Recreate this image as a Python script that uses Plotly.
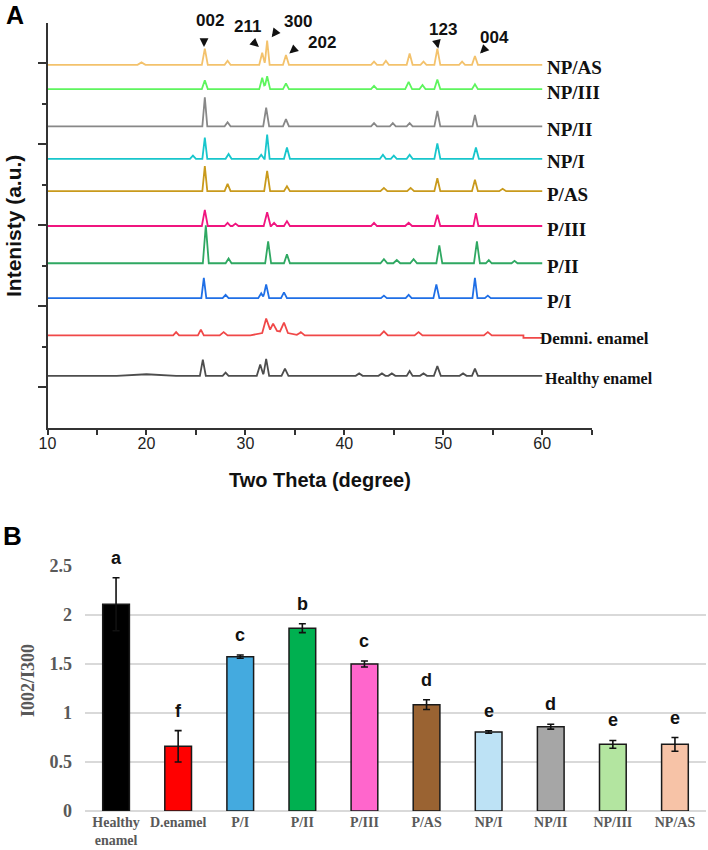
import plotly.graph_objects as go

# ---------------- Panel A: XRD patterns ----------------
# peaks: (2theta, height in a.u., half-width of peak base)
healthy_peaks = [(20.0, 2, 3.0), (25.7, 20, 0.3), (28.0, 4, 0.3), (31.5, 14, 0.35), (32.1, 21, 0.3),
                 (34.0, 9, 0.35), (41.5, 3, 0.35), (43.8, 3, 0.35), (44.8, 3, 0.35), (46.6, 6, 0.3),
                 (48.0, 3, 0.35), (49.4, 12, 0.35), (52.0, 3, 0.35), (53.2, 9, 0.3)]
demni_peaks = [(23.0, 4, 0.3), (25.5, 7, 0.3), (27.8, 4, 0.4), (33.0, 6, 2.5), (32.1, 17, 0.4),
               (32.8, 9, 0.4), (33.9, 12, 0.4), (35.6, 4, 0.4), (44.0, 5, 0.4), (47.5, 4, 0.4),
               (54.5, 4, 0.4)]
demni_tail = [(58.1, -3), (60.0, -3)]
p1_peaks = [(25.8, 25, 0.25), (28.0, 4, 0.3), (31.6, 6, 0.3), (32.1, 17, 0.3), (33.9, 7, 0.3),
            (44.0, 3, 0.3), (46.5, 4, 0.3), (49.3, 17, 0.3), (53.2, 25, 0.25), (54.5, 3, 0.3)]
p2_peaks = [(26.0, 47, 0.3), (28.3, 6, 0.3), (32.3, 27, 0.3), (34.2, 11, 0.3), (44.0, 5, 0.35),
            (45.3, 4, 0.35), (47.0, 5, 0.35), (49.6, 22, 0.3), (53.4, 27, 0.3), (54.6, 4, 0.3),
            (57.2, 3, 0.3)]
p3_peaks = [(25.9, 20, 0.3), (28.2, 4, 0.3), (29.0, 3, 0.3), (32.2, 17, 0.35), (32.9, 4, 0.3),
            (34.2, 6, 0.3), (43.0, 4, 0.3), (46.5, 4, 0.35), (49.4, 14, 0.3), (53.3, 16, 0.25)]
pas_peaks = [(25.9, 31, 0.25), (28.2, 9, 0.3), (32.2, 25, 0.3), (34.2, 6, 0.3), (44.0, 4, 0.35),
             (46.7, 4, 0.35), (49.4, 16, 0.3), (53.2, 14, 0.3), (56.0, 3, 0.35)]
np1_peaks = [(24.7, 4, 0.3), (25.9, 26, 0.25), (28.3, 6, 0.3), (31.6, 5, 0.3), (32.2, 30, 0.25),
             (34.2, 14, 0.3), (43.9, 5, 0.3), (45.0, 4, 0.3), (46.6, 5, 0.3), (49.4, 19, 0.3),
             (53.3, 14, 0.3)]
np2_peaks = [(25.9, 36, 0.25), (28.2, 5, 0.3), (32.1, 23, 0.3), (34.1, 9, 0.3), (43.0, 4, 0.3),
             (44.9, 4, 0.3), (46.6, 4, 0.3), (49.4, 19, 0.3), (53.2, 14, 0.25)]
np3_peaks = [(25.9, 11, 0.3), (31.7, 14, 0.3), (32.2, 16, 0.3), (34.1, 7, 0.3), (43.0, 4, 0.3),
             (46.5, 9, 0.35), (47.9, 5, 0.3), (49.4, 12, 0.3), (53.2, 6, 0.3)]
npas_peaks = [(19.5, 3, 0.4), (25.9, 20, 0.3), (28.2, 5, 0.3), (31.7, 15, 0.3), (32.2, 30, 0.25),
              (34.1, 12, 0.3), (43.0, 4, 0.3), (44.2, 5, 0.3), (46.6, 14, 0.3), (48.0, 4, 0.3),
              (49.4, 20, 0.3), (51.9, 4, 0.3), (53.2, 11, 0.3)]

xrd_names = ["Healthy enamel", "Demni. enamel", "P/I", "P/II", "P/III", "P/AS",
             "NP/I", "NP/II", "NP/III", "NP/AS"]
xrd_offsets = [64, 114, 160, 203, 249, 292, 332, 372, 418, 448]
xrd_colors = ["#4d4d4d", "#f04848", "#1f6fe6", "#2fa862", "#f0157f", "#c99a1c",
              "#18c6cc", "#888888", "#5ef55e", "#f3c26c"]
xrd_peaks = [healthy_peaks, demni_peaks, p1_peaks, p2_peaks, p3_peaks, pas_peaks,
             np1_peaks, np2_peaks, np3_peaks, npas_peaks]
xrd_label_fs = [16, 17, 19, 19, 19, 19, 19, 19, 19, 19]

peak_labels = ["002", "211", "300", "202", "123", "004"]
peak_label_x = [26.42, 30.26, 35.32, 37.74, 49.94, 55.13]
peak_label_py = [21, 26, 21.7, 43, 29.3, 37.7]          # pixel rows of label centres
peak_arrow_x = [25.82, 31.37, 32.66, 34.44, 49.50, 53.71]
peak_arrow_y = [470, 470, 482, 462, 468, 462]
peak_arrow_dx = [0, -8, 6, 7, -2, 7]
peak_arrow_dy = [-9, -7, -8, -6, -9, -7]

# ---------------- Panel B: I002/I300 ratio ----------------
groups = ["Healthy<br>enamel", "D.enamel", "P/I", "P/II", "P/III", "P/AS",
          "NP/I", "NP/II", "NP/III", "NP/AS"]
ratio = [2.11, 0.66, 1.575, 1.865, 1.50, 1.085, 0.806, 0.86, 0.68, 0.68]
ratio_err = [0.27, 0.16, 0.017, 0.045, 0.03, 0.05, 0.013, 0.025, 0.04, 0.07]
letters = ["a", "f", "c", "b", "c", "d", "e", "d", "e", "e"]
bar_colors = ["#000000", "#ff0000", "#44aadf", "#00b050", "#ff66cc", "#9a6332",
              "#bde2f5", "#a6a6a6", "#b3e5a0", "#f7c3a7"]


def build_line(offset, peaks, x0=10.0, x1=60.0):
    xs = {x0, x1}
    for p, h, w in peaks:
        for v in (p - w, p, p + w):
            if x0 <= v <= x1:
                xs.add(round(v, 4))
    xs = sorted(xs)
    ys = []
    for x in xs:
        s = 0.0
        for p, h, w in peaks:
            d = abs(x - p)
            if d < w:
                s += h * (1 - d / w)
        ys.append(offset + s)
    return xs, ys


fig = go.Figure()

for name, off, col, pk in zip(xrd_names, xrd_offsets, xrd_colors, xrd_peaks):
    if name.startswith("Demni"):
        xs, ys = build_line(off, pk, 10.0, demni_tail[0][0])
        for tx, ty in demni_tail:
            xs.append(tx)
            ys.append(off + ty)
    else:
        xs, ys = build_line(off, pk)
    fig.add_trace(go.Scatter(x=xs, y=ys, mode="lines", line=dict(color=col, width=1.8),
                             showlegend=False, xaxis="x", yaxis="y", hoverinfo="skip"))

fig.add_trace(go.Bar(x=list(range(len(groups))), y=ratio,
                     marker=dict(color=bar_colors, line=dict(color="#1a1a1a", width=1.5)),
                     error_y=dict(type="data", array=ratio_err, color="#111111",
                                  thickness=1.6, width=3.5),
                     width=0.43, showlegend=False, xaxis="x2", yaxis="y2"))

annotations = []
# trace labels
for name, off, fs in zip(xrd_names, xrd_offsets, xrd_label_fs):
    xpos = 60.25
    if name.startswith("Demni"):
        xpos = 59.55
    elif name.startswith("Healthy"):
        xpos = 60.1
    annotations.append(dict(x=xpos, y=off, xref="x", yref="y", text=name, showarrow=False,
                            xanchor="left", yanchor="middle", yshift=-3,
                            font=dict(family="Liberation Serif", size=fs, color="#111111",
                                      weight="bold")))
# peak labels and arrows
for t, lx, py in zip(peak_labels, peak_label_x, peak_label_py):
    annotations.append(dict(x=lx, y=1 - py / 850, xref="x", yref="paper", text=t,
                            showarrow=False, xanchor="center", yanchor="middle",
                            font=dict(family="Liberation Sans", size=17, color="#111111",
                                      weight="bold")))
for axp, ayp, dx, dy in zip(peak_arrow_x, peak_arrow_y, peak_arrow_dx, peak_arrow_dy):
    annotations.append(dict(x=axp, y=ayp, xref="x", yref="y", text="", showarrow=True,
                            ax=dx, ay=dy, arrowhead=2, arrowsize=0.8, arrowwidth=2.2,
                            arrowcolor="#111111"))
# bar letters
for i, (v, e, l) in enumerate(zip(ratio, ratio_err, letters)):
    annotations.append(dict(x=i, y=v + e, xref="x2", yref="y2", text=l, showarrow=False,
                            xanchor="center", yanchor="middle", yshift=20,
                            font=dict(family="Liberation Sans", size=18, color="#111111",
                                      weight="bold")))
# titles / panel letters
annotations += [
    dict(x=15 / 708, y=1 - 15 / 850, xref="paper", yref="paper", text="A", showarrow=False,
         xanchor="center", yanchor="middle",
         font=dict(family="Liberation Sans", size=25, color="#000000", weight="bold")),
    dict(x=12 / 708, y=1 - 536 / 850, xref="paper", yref="paper", text="B", showarrow=False,
         xanchor="center", yanchor="middle",
         font=dict(family="Liberation Sans", size=26, color="#000000", weight="bold")),
    dict(x=13 / 708, y=1 - 226 / 850, xref="paper", yref="paper", text="Intenisty (a.u.)",
         showarrow=False, textangle=-90, xanchor="center", yanchor="middle",
         font=dict(family="Liberation Sans", size=21, color="#111111", weight="bold")),
    dict(x=320 / 708, y=1 - 480 / 850, xref="paper", yref="paper", text="Two Theta (degree)",
         showarrow=False, xanchor="center", yanchor="middle",
         font=dict(family="Liberation Sans", size=20, color="#111111", weight="bold")),
    dict(x=28 / 708, y=1 - 681 / 850, xref="paper", yref="paper", text="I002/I300",
         showarrow=False, textangle=-90, xanchor="center", yanchor="middle",
         font=dict(family="Liberation Serif", size=18, color="#595959", weight="bold")),
]

xt_vals = list(range(10, 70, 5))
xt_text = [str(v) if v % 10 == 0 else "" for v in xt_vals]

fig.update_layout(
    template="none",
    width=708, height=850,
    margin=dict(l=0, r=0, t=0, b=0, pad=0),
    showlegend=False,
    paper_bgcolor="white", plot_bgcolor="white",
    font=dict(family="Liberation Sans", color="#222222"),
    annotations=annotations,
    xaxis=dict(domain=[47.5 / 708, 591.7 / 708], anchor="y", range=[10, 65], automargin=False,
               showline=True, linecolor="#333333", linewidth=1.6, showgrid=False,
               zeroline=False, tickvals=xt_vals, ticktext=xt_text, ticks="outside",
               ticklen=5, tickwidth=1.5, tickcolor="#333333", ticklabelstandoff=-5,
               tickfont=dict(size=16, color="#222222")),
    yaxis=dict(domain=[1 - 427.7 / 850, 1 - 22.7 / 850], anchor="x", range=[0, 500],
               automargin=False,
               showline=True, linecolor="#333333", linewidth=1.6, showgrid=False,
               zeroline=False, tickvals=[50, 150, 250, 350, 450], ticks="outside",
               ticklen=8, tickwidth=1.5, tickcolor="#333333", showticklabels=False,
               minor=dict(tickvals=[100, 200, 300, 400], ticks="outside", ticklen=4,
                          tickwidth=1.5, tickcolor="#333333")),
    xaxis2=dict(domain=[85 / 708, 706 / 708], anchor="y2", range=[-0.5, 9.5], automargin=False,
                tickvals=list(range(len(groups))), ticktext=groups, showline=False,
                showgrid=False, zeroline=False, ticks="", ticklabelstandoff=1,
                tickfont=dict(family="Liberation Serif", size=14, color="#595959",
                              weight="bold")),
    yaxis2=dict(domain=[1 - 811 / 850, 1 - 566 / 850], anchor="x2", range=[0, 2.5],
                automargin=False,
                tickvals=[0, 0.5, 1, 1.5, 2, 2.5], ticktext=["0", "0.5", "1", "1.5", "2", "2.5"],
                showline=False, showgrid=True, gridcolor="#d9d9d9", gridwidth=1.5,
                zeroline=True, zerolinecolor="#d9d9d9", zerolinewidth=1.5, ticks="",
                ticklabelstandoff=12,
                tickfont=dict(family="Liberation Serif", size=18, color="#595959",
                              weight="bold")),
)

fig.write_html("out.html", config={"displayModeBar": False},
               post_script="document.body.style.margin='0px';document.body.style.padding='0px';")
